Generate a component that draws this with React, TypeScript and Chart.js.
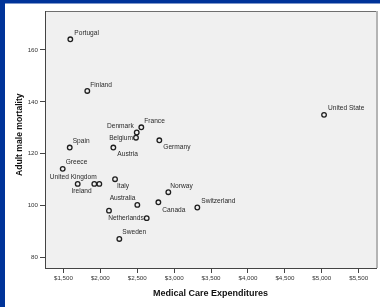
import React, { useEffect, useRef } from "react";
import { Chart, registerables } from "chart.js";
Chart.register(...registerables);

// ---- data ----
const countries = [
  "Portugal", "Finland", "France", "Denmark", "Belgium", "Germany", "Spain",
  "Austria", "Greece", "United Kingdom", "Ireland", "", "Italy", "Norway",
  "Canada", "Australia", "", "Netherlands", "Sweden", "Switzerland", "United State",
];
const expenditures = [
  1593, 1823, 2555, 2493, 2483, 2799, 1585,
  2176, 1490, 1693, 1918, 1986, 2199, 2921,
  2786, 2501, 2117, 2628, 2257, 3314, 5031,
];
const mortality = [
  164.1, 144.2, 130.2, 128.2, 126.2, 125.2, 122.4,
  122.4, 114.2, 108.4, 108.4, 108.4, 110.2, 105.2,
  101.3, 100.3, 98.1, 95.2, 87.2, 99.3, 135.0,
];
const xTicks = [1500, 2000, 2500, 3000, 3500, 4000, 4500, 5000, 5500];
const yTicks = [80, 100, 120, 140, 160];
const xTitle = "Medical Care Expenditures";
const yTitle = "Adult male mortality";

// label placement (style): [dx, dy, align]
const labelPlacement: [number, number, CanvasTextAlign][] = [
  [4, -6, "left"], [3, -6, "left"], [3, -6, "left"], [-3, -6.7, "right"],
  [-3, 0, "right"], [4, 7, "left"], [3, -6, "left"], [4, 7, "left"],
  [3, -6.7, "left"], [-4.5, -6.7, "center"], [-2.6, 7.7, "right"], [0, 0, "left"],
  [2, 7, "left"], [2, -6, "left"], [4, 7.7, "left"], [-2, -6.7, "right"],
  [0, 0, "left"], [-3, 0, "right"], [3, -6.7, "left"], [4, -6, "left"],
  [4, -6.7, "left"],
];

const FONT = "'Liberation Sans', Arial, sans-serif";

const framePlugin = {
  id: "frame",
  beforeDraw(chart: any) {
    const { ctx, chartArea: a, width, height } = chart;
    ctx.save();
    ctx.fillStyle = "#ffffff";
    ctx.fillRect(0, 0, width, height);
    ctx.fillStyle = "#003399";
    ctx.fillRect(0, 0, width, 3.5);
    ctx.fillRect(0, 0, 5, height);
    ctx.fillStyle = "#f0f0f0";
    ctx.fillRect(a.left, a.top, a.right - a.left, a.bottom - a.top);
    ctx.strokeStyle = "#6e6e6e";
    ctx.lineWidth = 1;
    ctx.beginPath();
    ctx.moveTo(a.left, a.top + 0.5);
    ctx.lineTo(a.right, a.top + 0.5);
    ctx.stroke();
    ctx.strokeStyle = "#b4b4b4";
    ctx.lineWidth = 2;
    ctx.beginPath();
    ctx.moveTo(a.right + 1, a.top);
    ctx.lineTo(a.right + 1, a.bottom);
    ctx.stroke();
    // y axis title
    ctx.translate(20, 134.7);
    ctx.rotate(-Math.PI / 2);
    ctx.font = `bold 8.6px ${FONT}`;
    ctx.fillStyle = "#111111";
    ctx.textAlign = "center";
    ctx.textBaseline = "middle";
    ctx.fillText(yTitle, 0, 0);
    ctx.restore();
  },
};

const labelPlugin = {
  id: "pointLabels",
  afterDatasetsDraw(chart: any) {
    const { ctx } = chart;
    const meta = chart.getDatasetMeta(0);
    ctx.save();
    ctx.font = `6.6px ${FONT}`;
    ctx.fillStyle = "#2a2a2a";
    ctx.textBaseline = "middle";
    meta.data.forEach((el: any, i: number) => {
      const name = countries[i];
      if (!name) return;
      const [dx, dy, align] = labelPlacement[i];
      ctx.textAlign = align;
      ctx.fillText(name, el.x + dx, el.y + dy);
    });
    ctx.restore();
  },
};

export default function App() {
  const ref = useRef<HTMLCanvasElement>(null);
  useEffect(() => {
    document.body.style.margin = "0";
    if (!ref.current) return;
    const chart = new Chart(ref.current, {
      type: "scatter",
      data: {
        datasets: [
          {
            data: expenditures.map((x, i) => ({ x, y: mortality[i] })),
            pointRadius: 2.3,
            pointBorderWidth: 1.3,
            pointBorderColor: "#1e1e1e",
            pointBackgroundColor: "rgba(0,0,0,0)",
            pointHoverRadius: 2.3,
          },
        ],
      },
      options: {
        animation: false,
        responsive: false,
        devicePixelRatio: 1,
        events: [],
        layout: { padding: { top: 11, right: 4, left: 0, bottom: 0 } },
        plugins: { legend: { display: false }, tooltip: { enabled: false } },
        scales: {
          x: {
            type: "linear",
            min: 1250,
            max: 5735,
            afterBuildTicks: (s: any) => {
              s.ticks = xTicks.map((v) => ({ value: v }));
            },
            afterFit: (s: any) => {
              s.height = 39;
            },
            ticks: {
              font: { family: FONT, size: 6.2 },
              color: "#333333",
              padding: 2,
              maxRotation: 0,
              autoSkip: false,
              callback: (v: any) => "$" + Number(v).toLocaleString("en-US"),
            },
            grid: {
              drawOnChartArea: false,
              drawTicks: true,
              tickLength: 5,
              tickColor: "#444444",
            },
            border: { display: true, color: "#444444", width: 1 },
            title: {
              display: true,
              text: xTitle,
              font: { family: FONT, size: 9, weight: "bold" },
              color: "#111111",
              padding: { top: 0, bottom: 8.3 },
            },
          },
          y: {
            type: "linear",
            min: 76,
            max: 175,
            afterBuildTicks: (s: any) => {
              s.ticks = yTicks.map((v) => ({ value: v }));
            },
            afterFit: (s: any) => {
              s.width = 45;
            },
            ticks: {
              font: { family: FONT, size: 6.2 },
              color: "#333333",
              padding: 2,
              autoSkip: false,
            },
            grid: {
              drawOnChartArea: false,
              drawTicks: true,
              tickLength: 5,
              tickColor: "#444444",
            },
            border: { display: true, color: "#444444", width: 1 },
            title: { display: false },
          },
        },
      },
      plugins: [framePlugin, labelPlugin],
    });
    return () => chart.destroy();
  }, []);
  return (
    <div style={{ width: 380, height: 307 }}>
      <canvas ref={ref} width={380} height={307} style={{ display: "block" }} />
    </div>
  );
}
